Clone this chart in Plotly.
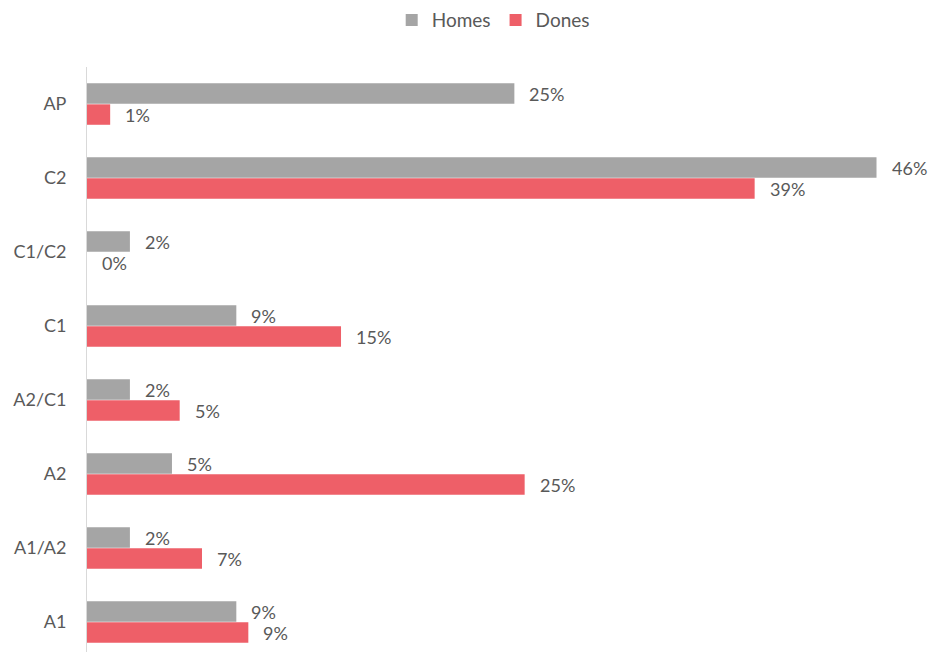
import plotly.graph_objects as go

categories = ["A1", "A1/A2", "A2", "A2/C1", "C1", "C1/C2", "C2", "AP"]
homes_values = [8.7, 2.5, 4.95, 2.5, 8.7, 2.5, 46.0, 24.9]
dones_values = [9.4, 6.7, 25.5, 5.4, 14.8, 0.0, 38.9, 1.35]
homes_labels = ["9%", "2%", "5%", "2%", "9%", "2%", "46%", "25%"]
dones_labels = ["9%", "7%", "25%", "5%", "15%", "0%", "39%", "1%"]

GRAY = "#A5A5A5"
RED = "#EE5F68"
TXT = "#595959"
FONT = "Lato, 'Open Sans', sans-serif"

fig = go.Figure()
fig.add_trace(go.Bar(y=categories, x=dones_values, name="Dones", orientation="h",
                     marker=dict(color=RED, line=dict(width=0)), hoverinfo="skip"))
fig.add_trace(go.Bar(y=categories, x=homes_values, name="Homes", orientation="h",
                     marker=dict(color=GRAY, line=dict(width=0)), hoverinfo="skip"))

annotations = []
for c, v, t in zip(categories, homes_values, homes_labels):
    annotations.append(dict(x=v, y=c, text=t, showarrow=False, xanchor="left", yanchor="middle",
                            xshift=13, yshift=10.5, font=dict(size=18, color=TXT, family=FONT)))
for c, v, t in zip(categories, dones_values, dones_labels):
    annotations.append(dict(x=v, y=c, text=t, showarrow=False, xanchor="left", yanchor="middle",
                            xshift=13, yshift=-10.5, font=dict(size=18, color=TXT, family=FONT)))

fig.update_layout(
    width=930, height=652,
    margin=dict(l=87, r=2, t=67, b=0),
    paper_bgcolor="white", plot_bgcolor="white",
    barmode="group", bargap=0.43, bargroupgap=0.03,
    font=dict(family=FONT, size=18, color=TXT),
    legend=dict(orientation="h", x=0.483, xanchor="center", y=1.08, yanchor="middle",
                traceorder="reversed", font=dict(size=19, color=TXT), itemwidth=30),
    xaxis=dict(range=[0, 49], showgrid=False, zeroline=False, showticklabels=False,
               showline=False, fixedrange=True),
    yaxis=dict(range=[-0.405, 7.5], showgrid=False, zeroline=False, showline=True,
               linecolor="#D9D9D9", linewidth=1, ticks="", ticklabelstandoff=16,
               tickfont=dict(size=18, color=TXT)),
    annotations=annotations,
)

fig.write_html("out.html")
